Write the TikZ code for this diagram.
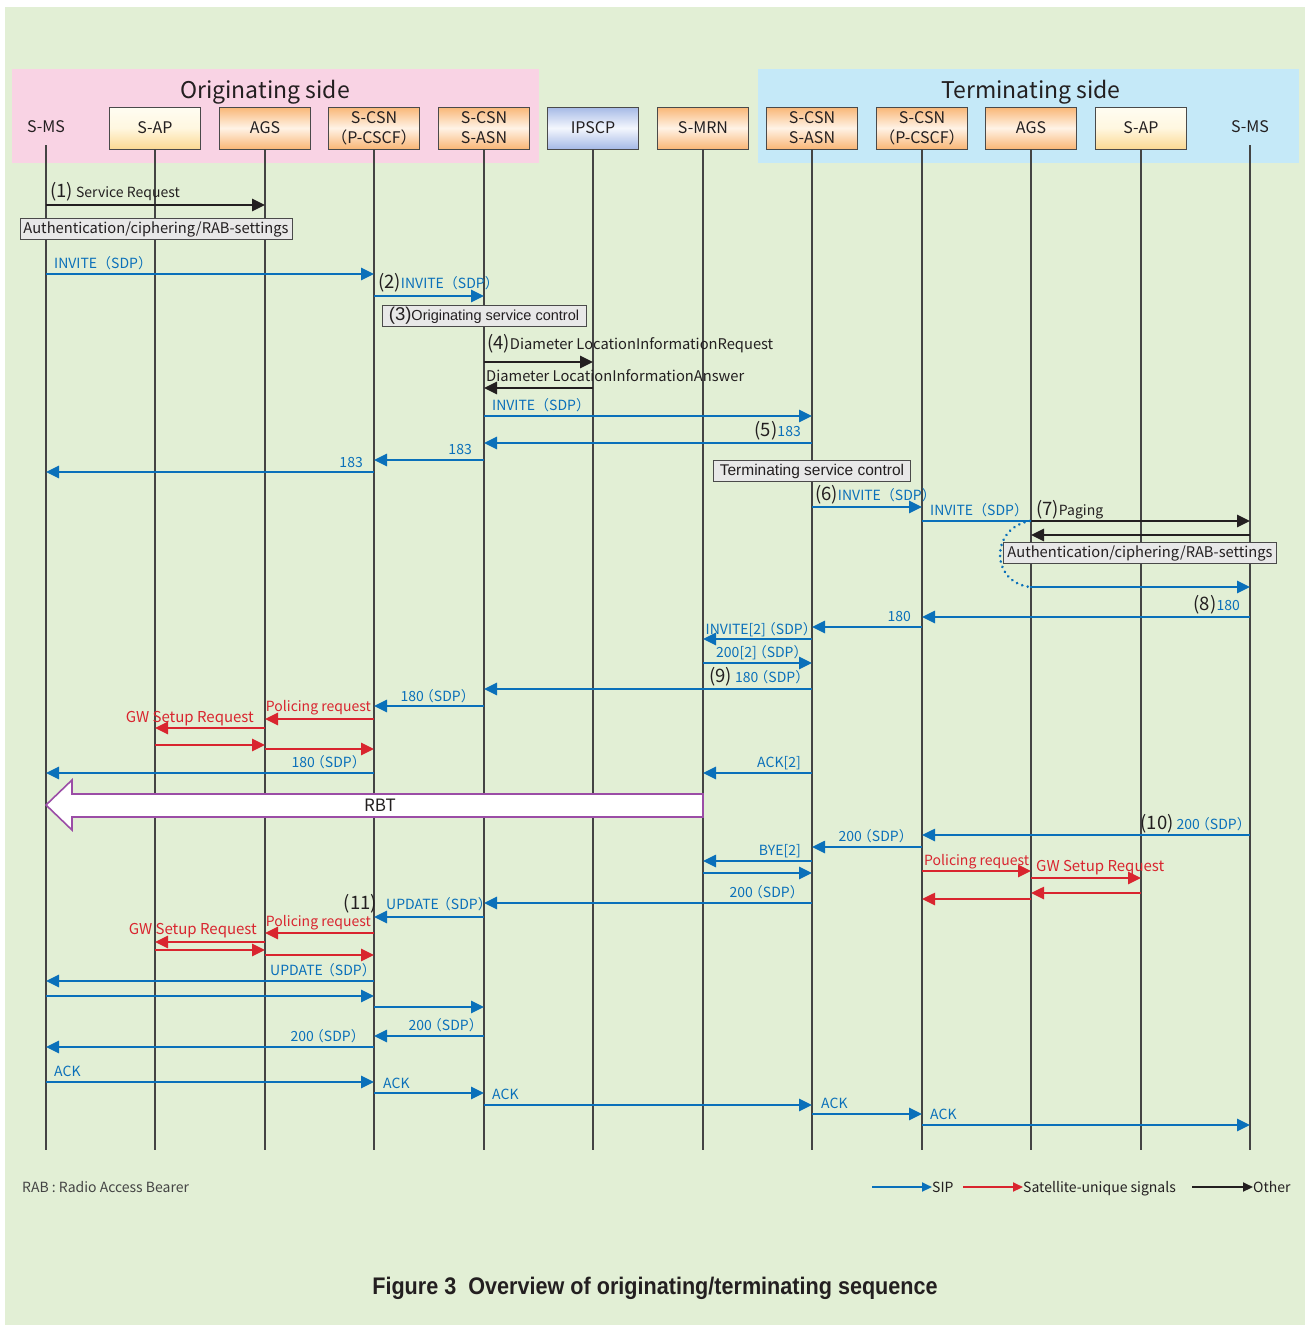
\documentclass[tikz,border=0pt]{standalone}
\usepackage{fontspec}
\setmainfont{Noto Sans CJK JP}
\newfontfamily\arialf{Liberation Sans}
\usetikzlibrary{arrows.meta}
\definecolor{bgG}{HTML}{E2EFD5}
\definecolor{pinkR}{HTML}{F9D3E4}
\definecolor{blueR}{HTML}{C5E9F8}
\definecolor{sipC}{HTML}{0A70BA}
\definecolor{satC}{HTML}{D9252F}
\definecolor{othC}{HTML}{231F20}
\definecolor{lifeC}{HTML}{444444}
\definecolor{boxB}{HTML}{4A4A4A}
\definecolor{orT}{HTML}{F9B676}
\definecolor{orM}{HTML}{FFF3E6}
\definecolor{apT}{HTML}{FFFDF2}
\definecolor{apM}{HTML}{FFF7E0}
\definecolor{apB}{HTML}{FBD993}
\definecolor{ipT}{HTML}{A5B9E6}
\definecolor{ipM}{HTML}{F4F7FD}
\definecolor{gboxF}{HTML}{E8E8E8}
\definecolor{rbtC}{HTML}{9B4DA6}
\newcommand\nb[1]{{\fontsize{18.5}{20}\selectfont\color{othC}#1}}
\newcommand\Lp{\kern-4pt（}
\newcommand\Rp{）\kern-5pt}
\newcommand\mg[4]{\draw[#1] (#2 |- 0,#4) -- (#3 |- 0,#4);}
\tikzset{
  hbox/.style={draw=boxB, line width=0.9pt, minimum width=91pt, minimum height=42pt, inner sep=0pt,
     align=center, font=\fontsize{16}{20}\selectfont, text=othC},
  orbox/.style={hbox, top color=orT, bottom color=orT, middle color=orM},
  apbox/.style={hbox, top color=apT, bottom color=apB, middle color=apM},
  ipbox/.style={hbox, top color=ipT, bottom color=ipT, middle color=ipM},
  life/.style={draw=lifeC, line width=1.1pt},
  tip/.style={-{Triangle[length=13pt,width=12pt]}},
  sip/.style={draw=sipC, line width=2.6pt, tip},
  sipl/.style={draw=sipC, line width=2.6pt},
  sat/.style={draw=satC, line width=2.6pt, tip},
  oth/.style={draw=othC, line width=2.6pt, tip},
  lb/.style={inner sep=0pt, font=\fontsize{14}{16}\selectfont},
  sl/.style={lb, text=sipC},
  rl/.style={lb, text=satC},
  kl/.style={lb, text=othC},
  gwl/.style={rl, font=\fontsize{15}{16}\selectfont},
  gbox/.style={draw=boxB, fill=gboxF, line width=0.9pt, minimum height=21pt, inner sep=0pt, text=othC,
     font=\fontsize{14.7}{16}\selectfont},
  lgd/.style={inner sep=0pt, anchor=base west, text=othC, font=\fontsize{14}{15}\selectfont},
  ltip/.style={line width=2pt, -{Triangle[length=10pt,width=9pt]}},
}
\begin{document}
\begin{tikzpicture}[x=1pt,y=-1pt]
\useasboundingbox (0,0) rectangle (1307,1325);
\fill[white] (0,0) rectangle (1307,1325);
\fill[bgG] (5,7) rectangle (1305,1325);
\fill[pinkR] (12,69) rectangle (539,163);
\fill[blueR] (758,69) rectangle (1299,163);
\node[font=\fontsize{23}{24}\selectfont, text=othC] (origT) at (265,92) {Originating side};
\node[font=\fontsize{23}{24}\selectfont, text=othC] (termT) at (1031,92) {Terminating side};
% headers
\node[font=\fontsize{16}{18}\selectfont, text=othC, inner sep=0pt] (ms1) at (46,127) {S-MS};
\node[apbox] (ap1) at (155,128) {S-AP};
\node[orbox] (ags1) at (265,128) {AGS};
\node[orbox] (pc1) at (374,128) {S-CSN\\（P-CSCF）};
\node[orbox] (as1) at (484,128) {S-CSN\\S-ASN};
\node[ipbox] (ip) at (593,128) {IPSCP};
\node[orbox] (mrn) at (703,128) {S-MRN};
\node[orbox] (as2) at (812,128) {S-CSN\\S-ASN};
\node[orbox] (pc2) at (922,128) {S-CSN\\（P-CSCF）};
\node[orbox] (ags2) at (1031,128) {AGS};
\node[apbox] (ap2) at (1141,128) {S-AP};
\node[font=\fontsize{16}{18}\selectfont, text=othC, inner sep=0pt] (ms2) at (1250,127) {S-MS};
% lifelines
\draw[life] (ms1 |- 0,145) -- (ms1 |- 0,1150);
\draw[life] (ms2 |- 0,145) -- (ms2 |- 0,1150);
\foreach \n in {ap1,ags1,pc1,as1,ip,mrn,as2,pc2,ags2,ap2}{
  \draw[life] (\n.south) -- (\n.south |- 0,1150);
}
% (1)
\mg{oth}{ms1}{ags1}{205}
\node[kl, anchor=base west] (l1) at (50,197) {\nb{(1)} Service Request};
\node[gbox, minimum width=272pt] (auth1) at (156,229) {Authentication/ciphering/RAB-settings};
\mg{sip}{ms1}{pc1}{274}
\node[sl, anchor=base west] (l2) at (54,268) {INVITE（SDP）};
\mg{sip}{pc1}{as1}{296}
\node[sl, anchor=base west] (l3) at (378,288) {\nb{(2)}INVITE（SDP）};
\node[gbox, minimum width=204pt, font=\arialf\fontsize{14.5}{16}\selectfont] (osc) at (484,316) {\nb{(3)}Originating service control};
\mg{oth}{as1}{ip}{362}
\node[kl, anchor=base west, font=\fontsize{14.7}{16}\selectfont] (l4) at (487,349) {\nb{(4)}Diameter LocationInformationRequest};
\mg{oth}{ip}{as1}{388}
\node[kl, anchor=base west, font=\fontsize{14.7}{16}\selectfont] (l5) at (486,381) {Diameter LocationInformationAnswer};
\mg{sip}{as1}{as2}{416}
\node[sl, anchor=base west] (l6) at (492,410) {INVITE（SDP）};
\mg{sip}{as2}{as1}{443}
\node[sl, anchor=base east] (l7) at (801,436) {\nb{(5)}183};
\mg{sip}{as1}{pc1}{460}
\node[sl, anchor=base east] (l8) at (472,454) {183};
\mg{sip}{pc1}{ms1}{472}
\node[sl, anchor=base east] (l9) at (363,467) {183};
\node[gbox, minimum width=197pt, font=\arialf\fontsize{15.5}{16}\selectfont] (tsc) at (812,471) {Terminating service control};
\mg{sip}{as2}{pc2}{507}
\node[sl, anchor=base west] (l10) at (815,500) {\nb{(6)}INVITE（SDP）};
\mg{sipl}{pc2}{ags2}{521}
\node[sl, anchor=base west] (l11) at (930,515) {INVITE（SDP）};
\mg{oth}{ags2}{ms2}{521}
\node[kl, anchor=base west] (l12) at (1036,515) {\nb{(7)}Paging};
\mg{oth}{ms2}{ags2}{535}
\node[gbox, minimum width=273pt] (auth2) at (1140,553) {Authentication/ciphering/RAB-settings};
\coordinate (arcA) at (1030,521);
\coordinate (arcB) at (1030,587);
\draw[sipC, line width=2.8pt, dash pattern=on 0.1pt off 5.5pt, line cap=round] (arcA) .. controls (990,528) and (990,582) .. (arcB);
\mg{sip}{arcB}{ms2}{587}
\mg{sip}{ms2}{pc2}{617}
\node[sl, anchor=base east] (l13) at (1240,610) {\nb{(8)}180};
\mg{sip}{pc2}{as2}{627}
\node[sl, anchor=base east] (l14) at (911,621) {180};
\mg{sip}{as2}{mrn}{639}
\node[sl, anchor=base east] (l15) at (812,634) {INVITE[2]\Lp SDP\Rp};
\mg{sip}{mrn}{as2}{663}
\node[sl, anchor=base west] (l16) at (716,657) {200[2]\Lp SDP\Rp};
\mg{sip}{as2}{as1}{689}
\node[sl, anchor=base west] (l17) at (709,682) {\nb{(9)} 180\Lp SDP\Rp};
\mg{sip}{as1}{pc1}{706}
\node[sl, anchor=base east] (l18) at (470,701) {180\Lp SDP\Rp};
\mg{sat}{pc1}{ags1}{719}
\node[rl, anchor=base east] (l19) at (371,711) {Policing request};
\mg{sat}{ags1}{ap1}{728}
\node[gwl, anchor=base east] (l20) at (254,722) {GW Setup Request};
\mg{sat}{ap1}{ags1}{745}
\mg{sat}{ags1}{pc1}{749}
\mg{sip}{pc1}{ms1}{773}
\node[sl, anchor=base east] (l21) at (361,767) {180\Lp SDP\Rp};
\mg{sip}{as2}{mrn}{773}
\node[sl, anchor=base east] (l22) at (801,767) {ACK[2]};
% RBT
\draw[draw=rbtC, fill=white, line width=1.6pt, line join=miter] (ms1 |- 0,805) -- (72,780) -- (72,794) -- (mrn |- 0,794) -- (mrn |- 0,817) -- (72,817) -- (72,830) -- cycle;
\node[font=\fontsize{17}{18}\selectfont, text=othC] (rbt) at (380,805) {RBT};
\mg{sip}{ms2}{pc2}{835}
\node[sl, anchor=base east] (l23) at (1246,829) {\nb{(10)} 200\Lp SDP\Rp};
\mg{sip}{pc2}{as2}{847}
\node[sl, anchor=base east] (l24) at (908,841) {200\Lp SDP\Rp};
\mg{sip}{as2}{mrn}{861}
\node[sl, anchor=base east] (l25) at (801,855) {BYE[2]};
\mg{sip}{mrn}{as2}{873}
\mg{sat}{pc2}{ags2}{871}
\node[rl, anchor=base west] (l26) at (924,865) {Policing request};
\mg{sat}{ags2}{ap2}{878}
\node[gwl, anchor=base west] (l27) at (1036,871) {GW Setup Request};
\mg{sat}{ap2}{ags2}{893}
\mg{sat}{ags2}{pc2}{899}
\mg{sip}{as2}{as1}{903}
\node[sl, anchor=base east] (l28) at (799,897) {200\Lp SDP\Rp};
\mg{sip}{as1}{pc1}{917}
\node[kl, anchor=base east] (l29a) at (377,909) {\nb{(11)}};
\node[sl, anchor=base west] (l29) at (386,909) {UPDATE\kern-2pt（SDP）};
\mg{sat}{pc1}{ags1}{933}
\node[rl, anchor=base east] (l30) at (371,926) {Policing request};
\mg{sat}{ags1}{ap1}{942}
\node[gwl, anchor=base east] (l31) at (257,934) {GW Setup Request};
\mg{sat}{ap1}{ags1}{950}
\mg{sat}{ags1}{pc1}{955}
\mg{sip}{pc1}{ms1}{981}
\node[sl, anchor=base east] (l32) at (371,975) {UPDATE\kern-2pt（SDP\Rp};
\mg{sip}{ms1}{pc1}{996}
\mg{sip}{pc1}{as1}{1007}
\mg{sip}{as1}{pc1}{1036}
\node[sl, anchor=base east] (l33) at (478,1030) {200\Lp SDP\Rp};
\mg{sip}{pc1}{ms1}{1047}
\node[sl, anchor=base east] (l34) at (360,1041) {200\Lp SDP\Rp};
\mg{sip}{ms1}{pc1}{1082}
\node[sl, anchor=base west] (l35) at (54,1076) {ACK};
\mg{sip}{pc1}{as1}{1093}
\node[sl, anchor=base west] (l36) at (383,1088) {ACK};
\mg{sip}{as1}{as2}{1105}
\node[sl, anchor=base west] (l37) at (492,1099) {ACK};
\mg{sip}{as2}{pc2}{1114}
\node[sl, anchor=base west] (l38) at (821,1108) {ACK};
\mg{sip}{pc2}{ms2}{1125}
\node[sl, anchor=base west] (l39) at (930,1119) {ACK};
% legend
\node[lgd, text=lifeC, font=\fontsize{14}{15}\selectfont] (rab) at (22,1192) {RAB : Radio Access Bearer};
\node[lgd] (lgS) at (932,1192) {SIP};
\node[lgd] (lgR) at (1023,1192) {Satellite-unique signals};
\node[lgd] (lgK) at (1253,1192) {Other};
\coordinate (lgS0) at (872,1187);
\coordinate (lgR0) at (963,1187);
\coordinate (lgK0) at (1192,1187);
\draw[sipC, ltip] (lgS0) -- (lgS0 -| lgS.west);
\draw[satC, ltip] (lgR0) -- (lgR0 -| lgR.west);
\draw[othC, ltip] (lgK0) -- (lgK0 -| lgK.west);
\node[text=othC, font=\arialf\bfseries\fontsize{24}{26}\selectfont] (cap) at (655,1288) {\scalebox{0.9}[1]{Figure 3\ \ Overview of originating/terminating sequence}};
\end{tikzpicture}
\end{document}
